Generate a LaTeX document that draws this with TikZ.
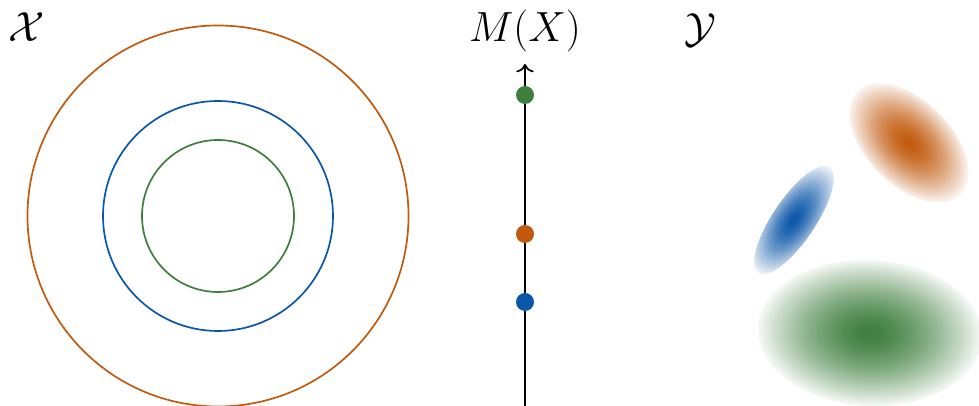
\RequirePackage{fix-cm}
\documentclass[tikz,border=0pt]{standalone}
\usepackage{amsmath,amssymb}
\usepackage{tikz}
\usetikzlibrary{positioning,arrows.meta,calc}
\usepackage{xcolor}

\definecolor{corange}{RGB}{193,90,12}
\definecolor{cblue}{RGB}{10,86,168}
\definecolor{cgreen}{RGB}{62,126,62}

\tikzset{
  ring/.style={line width=1.2pt},
  dot/.style={circle,fill=#1,inner sep=0pt,minimum size=0.45cm},
  bigmath/.style={inner sep=0pt,font=\fontsize{30}{36}\selectfont}
}

\begin{document}
\begin{tikzpicture}[x=0.025cm,y=0.025cm,>={To[scale=1.4]}]
\useasboundingbox (0,0) rectangle (979,406);
% input space
\node[bigmath] (calx) at (27,379) {$\mathcal{X}$};
\coordinate (ctr) at (218,190);
\draw[ring,corange] (ctr) circle (190.5);
\draw[ring,cblue] (ctr) circle (115);
\draw[ring,cgreen] (ctr) circle (76);
% the measure axis
\coordinate (axbot) at (525,0);
\coordinate (axtop) at (525,342);
\draw[->,line width=1.2pt] (axbot) -- (axtop);
\node[bigmath,above=0.28cm of axtop] (mx) {$M(X)$};
\node[dot=cgreen] (pg) at (525,311) {};
\node[dot=corange] (po) at (525,172) {};
\node[dot=cblue] (pb) at (525,104) {};
% output space
\foreach \col/\cx/\cy/\ra/\rb/\rw/\ang in {cgreen/870/73/112/73/73/-3, corange/909/263/73/42/44/-45, cblue/794/186/64/21/30/56}{
  \begin{scope}[rotate around={\ang:(\cx,\cy)}]
    \clip (\cx,\cy) ellipse ({\ra} and {\rb});
    \foreach \k in {0,...,59}{
      \pgfmathtruncatemacro\pct{6+94*(1-((60-\k)/60)^1.5)}
      \fill[\col!\pct!white] (\cx,\cy) ellipse ({\ra*(60-\k)/60} and {\rw*(60-\k)/60});
    }
  \end{scope}
}
\node[bigmath] (caly) at (700,376) {$\mathcal{Y}$};
\end{tikzpicture}
\end{document}
